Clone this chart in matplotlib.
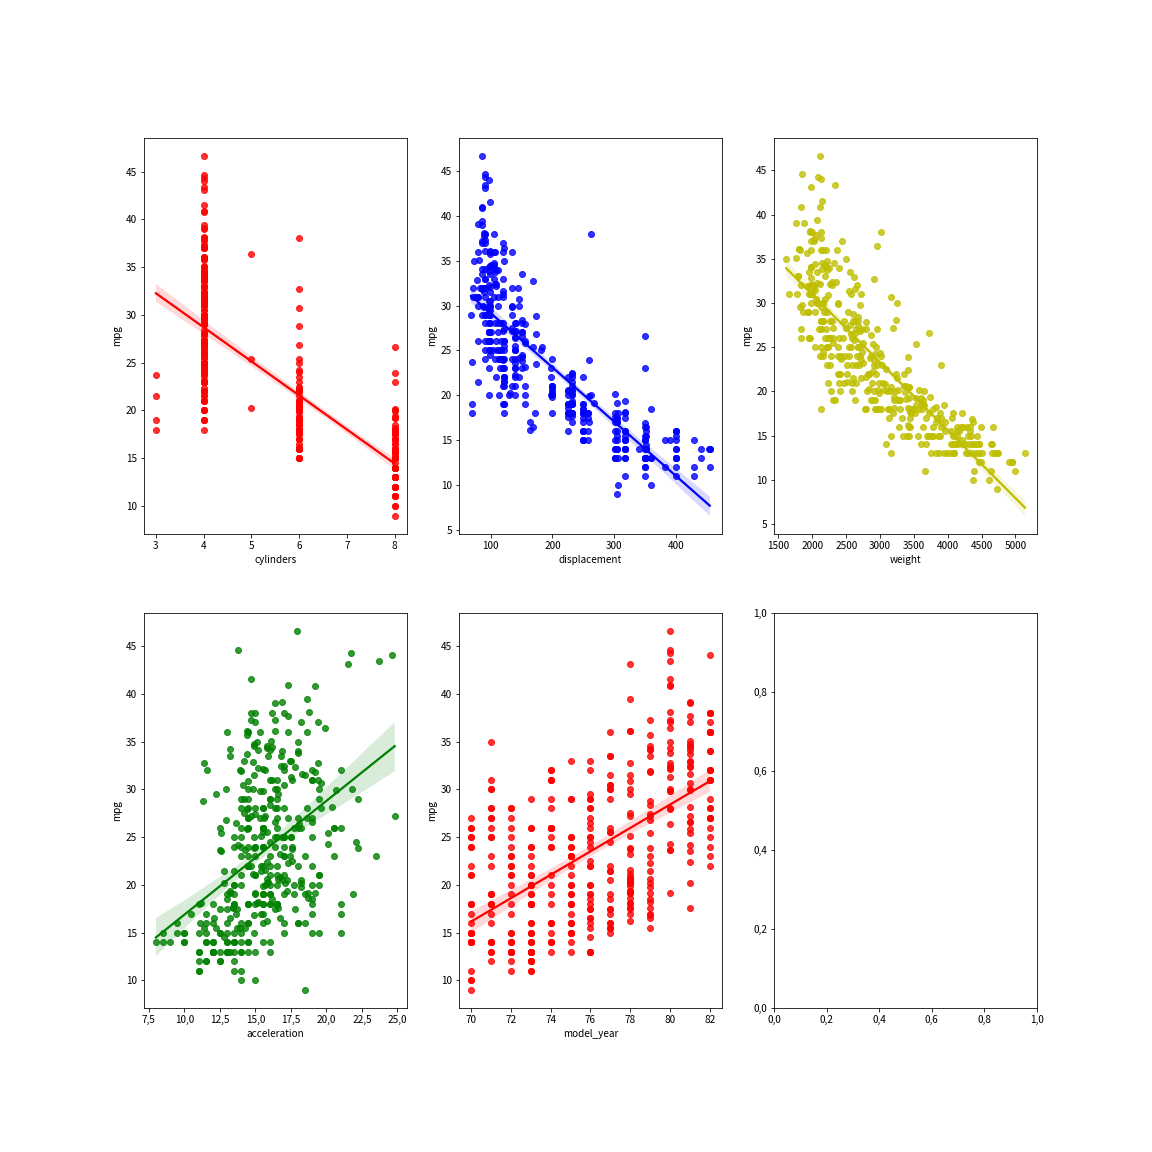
import matplotlib
matplotlib.use("Agg")
import matplotlib.pyplot as plt
import numpy as np
import pandas as pd
import seaborn as sns
from matplotlib.ticker import FuncFormatter

# auto-mpg data (grouped by model year, 1970 -> 1982)
mpg = [
    18, 15, 18, 16, 17, 15, 14, 14, 14, 15, 15, 14, 15, 14, 24, 22, 18, 21, 27, 26, 25, 24, 25, 26, 21, 10, 10, 11, 9,
    27, 28, 25, 25, 19, 16, 17, 19, 18, 14, 14, 14, 14, 12, 13, 13, 18, 22, 19, 18, 23, 28, 30, 30, 31, 35, 27, 26,
    24, 25, 23, 20, 21, 13, 14, 15, 14, 17, 11, 13, 12, 13, 19, 15, 13, 13, 14, 18, 22, 21, 26, 22, 28, 23, 28, 27,
    13, 14, 13, 14, 15, 12, 13, 13, 14, 13, 12, 13, 18, 16, 18, 18, 23, 26, 11, 12, 13, 12, 18, 20, 21, 22, 18, 19, 21, 26, 15, 16, 29, 24, 20, 19, 15, 24, 20, 11,
    20, 21, 19, 15, 31, 26, 32, 25, 16, 16, 18, 16, 13, 14, 14, 14, 29, 26, 26, 31, 32, 28, 24, 26, 24, 26, 31,
    19, 18, 15, 15, 16, 15, 16, 14, 17, 16, 15, 18, 21, 20, 13, 29, 23, 20, 23, 24, 25, 24, 18, 29, 19, 23, 23, 22, 25, 33,
    28, 25, 25, 26, 27, 17.5, 16, 15.5, 14.5, 22, 22, 24, 22.5, 29, 24.5, 29, 33, 20, 18, 18.5, 17.5, 29.5, 32, 28, 26.5, 20, 13, 19, 19, 16.5, 16.5, 13, 13, 13,
    31.5, 30, 36, 25.5, 33.5, 17.5, 17, 15.5, 15, 17.5, 20.5, 19, 18.5, 16, 15.5, 15.5, 16, 29, 24.5, 26, 25.5, 30.5, 33.5, 30, 30.5, 22, 21.5, 21.5,
    43.1, 36.1, 32.8, 39.4, 36.1, 19.9, 19.4, 20.2, 19.2, 20.5, 20.2, 25.1, 20.5, 19.4, 20.6, 20.8, 18.6, 18.1, 19.2, 17.7, 18.1, 17.5, 30, 27.5, 27.2, 30.9, 21.1, 23.2, 23.8, 23.9, 20.3, 17, 21.6, 16.2, 31.5, 29.5,
    21.5, 19.8, 22.3, 20.2, 20.6, 17, 17.6, 16.5, 18.2, 16.9, 15.5, 19.2, 18.5, 31.9, 34.1, 35.7, 27.4, 25.4, 23, 27.2, 23.9, 34.2, 34.5, 31.8, 37.3, 28.4, 28.8, 26.8, 33.5,
    41.5, 38.1, 32.1, 37.2, 28, 26.4, 24.3, 19.1, 34.3, 29.8, 31.3, 37, 32.2, 46.6, 27.9, 40.8, 44.3, 43.4, 36.4, 30, 44.6, 40.9, 33.8, 29.8, 32.7, 23.7, 35, 23.6, 32.4,
    27.2, 26.6, 25.8, 23.5, 30, 39.1, 39, 35.1, 32.3, 37, 37.7, 34.1, 34.7, 34.4, 29.9, 33, 34.5, 33.7, 32.4, 32.9, 31.6, 28.1, 30.7, 25.4, 24.2, 22.4, 26.6, 20.2, 17.6,
    28, 27, 34, 31, 29, 27, 24, 23, 36, 37, 31, 38, 36, 36, 36, 34, 38, 32, 38, 25, 38, 26, 22, 32, 36, 27, 27, 44, 32, 28, 31,
]

cylinders = [
    8, 8, 8, 8, 8, 8, 8, 8, 8, 8, 8, 8, 8, 8, 4, 6, 6, 6, 4, 4, 4, 4, 4, 4, 6, 8, 8, 8, 8,
    4, 4, 4, 4, 6, 6, 6, 6, 6, 8, 8, 8, 8, 8, 8, 8, 6, 4, 6, 6, 4, 4, 4, 4, 4, 4, 4, 4,
    4, 4, 4, 4, 4, 8, 8, 8, 8, 8, 8, 8, 8, 8, 3, 8, 8, 8, 8, 4, 4, 4, 4, 4, 4, 4, 4, 4,
    8, 8, 8, 8, 8, 8, 8, 8, 8, 8, 8, 8, 6, 6, 6, 6, 6, 4, 8, 8, 8, 8, 6, 4, 4, 4, 3, 4, 6, 4, 8, 8, 4, 4, 4, 4, 8, 4, 6, 8,
    6, 6, 6, 6, 4, 4, 4, 4, 6, 6, 6, 8, 8, 8, 8, 8, 4, 4, 4, 4, 4, 4, 4, 4, 4, 4, 4,
    6, 6, 6, 6, 8, 8, 8, 8, 6, 6, 6, 6, 6, 8, 8, 4, 4, 6, 4, 4, 4, 4, 6, 4, 6, 4, 4, 4, 4, 4,
    4, 4, 4, 4, 4, 8, 8, 8, 8, 6, 6, 6, 6, 4, 4, 4, 4, 6, 6, 6, 6, 4, 4, 4, 4, 4, 8, 4, 6, 6, 8, 8, 8, 8,
    4, 4, 4, 4, 4, 8, 8, 8, 8, 6, 6, 6, 6, 8, 8, 8, 8, 4, 4, 4, 4, 4, 4, 4, 4, 6, 4, 3,
    4, 4, 4, 4, 4, 8, 8, 8, 6, 6, 6, 4, 6, 6, 6, 6, 6, 6, 8, 6, 8, 8, 4, 4, 4, 4, 4, 4, 4, 4, 5, 6, 4, 6, 4, 4,
    6, 6, 4, 6, 6, 8, 8, 8, 8, 8, 8, 8, 8, 4, 4, 4, 4, 5, 8, 4, 8, 4, 4, 4, 4, 4, 6, 6, 4,
    4, 4, 4, 4, 4, 4, 4, 6, 4, 4, 4, 4, 4, 4, 4, 4, 4, 4, 5, 4, 4, 4, 4, 4, 6, 3, 4, 4, 4,
    4, 4, 4, 6, 4, 4, 4, 4, 4, 4, 4, 4, 4, 4, 4, 4, 4, 4, 4, 4, 4, 4, 6, 6, 6, 6, 8, 6, 6,
    4, 4, 4, 4, 4, 4, 4, 4, 4, 4, 4, 4, 4, 4, 4, 4, 4, 4, 4, 6, 6, 4, 6, 4, 4, 4, 4, 4, 4, 4, 4,
]

displacement = [
    307, 350, 318, 304, 302, 429, 454, 440, 455, 390, 383, 340, 400, 455, 113, 198, 199, 200, 97, 97, 110, 107, 104, 121, 199, 360, 307, 318, 304,
    97, 140, 113, 98, 232, 225, 250, 250, 232, 350, 400, 351, 318, 383, 400, 400, 258, 140, 250, 250, 122, 116, 79, 88, 71, 72, 97, 91,
    113, 97.5, 97, 140, 122, 350, 400, 318, 351, 304, 429, 350, 350, 400, 70, 304, 307, 302, 318, 121, 121, 120, 96, 122, 97, 120, 98, 97,
    350, 304, 350, 302, 318, 429, 400, 351, 318, 440, 455, 360, 225, 250, 232, 250, 198, 97, 400, 400, 360, 350, 232, 97, 140, 108, 70, 122, 155, 98, 350, 400, 68, 116, 114, 121, 318, 121, 156, 350,
    198, 200, 232, 250, 79, 122, 71, 140, 250, 258, 225, 302, 350, 318, 302, 304, 98, 79, 97, 76, 83, 90, 90, 116, 120, 108, 79,
    225, 250, 250, 250, 400, 350, 318, 351, 231, 250, 258, 225, 231, 262, 302, 97, 140, 232, 140, 134, 90, 119, 171, 90, 232, 115, 120, 121, 121, 91,
    107, 116, 140, 98, 101, 305, 318, 304, 351, 225, 250, 200, 232, 85, 98, 90, 91, 225, 250, 250, 258, 97, 85, 97, 140, 130, 318, 120, 156, 168, 350, 350, 302, 318,
    98, 111, 79, 122, 85, 305, 260, 318, 302, 250, 231, 225, 250, 400, 350, 400, 351, 97, 151, 97, 140, 98, 98, 97, 97, 146, 121, 80,
    90, 98, 78, 85, 91, 260, 318, 302, 231, 200, 200, 140, 225, 232, 231, 200, 225, 258, 305, 231, 302, 318, 98, 134, 119, 105, 134, 156, 151, 119, 131, 163, 121, 163, 89, 98,
    231, 200, 140, 232, 225, 305, 302, 351, 318, 350, 351, 267, 360, 89, 86, 98, 121, 183, 350, 141, 260, 105, 105, 85, 91, 151, 173, 173, 151,
    98, 89, 98, 86, 151, 140, 151, 225, 97, 134, 120, 119, 108, 86, 156, 85, 90, 90, 121, 146, 91, 85, 97, 89, 168, 70, 122, 140, 107,
    135, 151, 156, 173, 135, 79, 86, 81, 97, 85, 89, 91, 105, 98, 98, 105, 100, 107, 108, 119, 120, 141, 145, 168, 146, 231, 350, 200, 225,
    112, 112, 112, 112, 135, 151, 140, 151, 105, 91, 91, 105, 98, 120, 107, 108, 91, 91, 91, 181, 262, 156, 232, 144, 135, 151, 140, 97, 135, 120, 119,
]

weight = [
    3504, 3693, 3436, 3433, 3449, 4341, 4354, 4312, 4425, 3850, 3563, 3609, 3761, 3086, 2372, 2833, 2774, 2587, 2130, 1835, 2672, 2430, 2375, 2234, 2648, 4615, 4376, 4382, 4732,
    2130, 2264, 2228, 2046, 2634, 3439, 3329, 3302, 3288, 4209, 4464, 4154, 4096, 4955, 4746, 5140, 2962, 2408, 3282, 3139, 2220, 2123, 2074, 2065, 1773, 1613, 1834, 1955,
    2278, 2126, 2254, 2408, 2226, 4274, 4385, 4135, 4129, 3672, 4633, 4502, 4456, 4422, 2330, 3892, 4098, 4294, 4077, 2933, 2511, 2979, 2189, 2395, 2288, 2506, 2164, 2100,
    4100, 3672, 3988, 4042, 3777, 4952, 4464, 4363, 4237, 4735, 4951, 3821, 3121, 3278, 2945, 3021, 2904, 1950, 4997, 4906, 4654, 4499, 2789, 2279, 2401, 2379, 2124, 2310, 2472, 2265, 4082, 4278, 1867, 2158, 2582, 2868, 3399, 2660, 2807, 3664,
    3102, 2875, 2901, 3336, 1950, 2451, 1836, 2542, 3781, 3632, 3613, 4141, 4699, 4457, 4638, 4257, 2219, 1963, 2300, 1649, 2003, 2125, 2108, 2246, 2489, 2391, 2000,
    3264, 3459, 3432, 3158, 4668, 4440, 4498, 4657, 3907, 3897, 3730, 3785, 3039, 3221, 3169, 2171, 2639, 2914, 2592, 2702, 2223, 2545, 2984, 1937, 3211, 2694, 2957, 2945, 2671, 1795,
    2464, 2220, 2572, 2255, 2202, 4215, 4190, 3962, 4215, 3233, 3353, 3012, 3085, 2035, 2164, 1937, 1795, 3651, 3574, 3645, 3193, 1825, 1990, 2155, 2565, 3150, 3940, 3270, 2930, 3820, 4380, 4055, 3870, 3755,
    2045, 2155, 1825, 2300, 1945, 3880, 4060, 4140, 4295, 3520, 3425, 3630, 3525, 4220, 4165, 4325, 4335, 1940, 2740, 2265, 2755, 2051, 2075, 1985, 2190, 2815, 2600, 2720,
    1985, 1800, 1985, 2070, 1800, 3365, 3735, 3570, 3535, 3155, 2965, 2720, 3430, 3210, 3380, 3070, 3620, 3410, 3425, 3445, 3205, 4080, 2155, 2560, 2300, 2230, 2515, 2745, 2855, 2405, 2830, 3140, 2795, 3410, 1990, 2135,
    3245, 2990, 2890, 3265, 3360, 3840, 3725, 3955, 3830, 4360, 4054, 3605, 3940, 1925, 1975, 1915, 2670, 3530, 3900, 3190, 3420, 2200, 2150, 2020, 2130, 2670, 2595, 2700, 2556,
    2144, 1968, 2120, 2019, 2678, 2870, 3003, 3381, 2188, 2711, 2542, 2434, 2265, 2110, 2800, 2110, 2085, 2335, 2950, 3250, 1850, 1835, 2145, 1845, 2910, 2420, 2500, 2905, 2290,
    2490, 2635, 2620, 2725, 2385, 1755, 1875, 1760, 2065, 1975, 2050, 1985, 2215, 2045, 2380, 2190, 2320, 2210, 2350, 2615, 2635, 3230, 3160, 2900, 2930, 3415, 3725, 3060, 3465,
    2605, 2640, 2395, 2575, 2525, 2735, 2865, 3035, 1980, 2025, 1970, 2125, 2125, 2160, 2205, 2245, 1965, 1965, 1995, 2945, 3015, 2585, 2835, 2665, 2370, 2950, 2790, 2130, 2295, 2625, 2720,
]

acceleration = [
    12, 11.5, 11, 12, 10.5, 10, 9, 8.5, 10, 8.5, 10, 8, 9.5, 10, 15, 15.5, 15.5, 16, 14.5, 20.5, 17.5, 14.5, 17.5, 12.5, 15, 14, 15, 13.5, 18.5,
    14.5, 15.5, 14, 19, 13, 15.5, 15.5, 15.5, 15.5, 12, 11.5, 13.5, 13, 11.5, 12, 12, 13.5, 19, 15, 14.5, 14, 14, 19.5, 14.5, 19, 18, 19, 20.5,
    15.5, 17, 23.5, 19.5, 16.5, 12, 12, 13.5, 13, 11.5, 11, 13.5, 13.5, 12.5, 13.5, 12.5, 14, 16, 14, 14.5, 18, 19.5, 18, 16, 17, 14.5, 15, 16.5,
    13, 11.5, 13, 14.5, 12.5, 11.5, 12, 13, 14.5, 11, 11, 11, 16.5, 18, 16, 16.5, 16, 21, 14, 12.5, 13, 12.5, 15, 19, 19.5, 16.5, 13.5, 18.5, 14, 15.5, 13, 9.5, 19.5, 15.5, 14, 15.5, 11, 14, 13.5, 11,
    16.5, 17, 16, 17, 19, 16.5, 21, 17, 17, 18, 16.5, 14, 14.5, 13.5, 16, 15.5, 16.5, 15.5, 14.5, 16.5, 19, 14.5, 15.5, 14, 15, 15.5, 16,
    16, 16, 21, 19.5, 11.5, 14, 14.5, 13.5, 21, 18.5, 19, 19, 15, 13.5, 12, 16, 17, 16, 18.5, 13.5, 16.5, 17, 14.5, 14, 17, 15, 17, 14.5, 13.5, 17.5,
    15.5, 16.9, 14.9, 17.7, 15.3, 13, 13, 13.9, 12.8, 15.4, 14.5, 17.6, 17.6, 22.2, 22.1, 14.2, 17.4, 17.7, 21, 16.2, 17.8, 12.2, 17, 16.4, 13.6, 15.7, 13.2, 21.9, 15.5, 16.7, 12.1, 12, 15, 14,
    18.5, 14.8, 18.6, 15.5, 16.8, 12.5, 19, 13.7, 14.9, 16.4, 16.9, 17.7, 19, 11.1, 11.4, 12.2, 14.5, 14.5, 16, 18.2, 15.8, 17, 15.9, 16.4, 14.1, 14.5, 12.8, 13.5,
    21.5, 14.4, 19.4, 18.6, 16.4, 15.5, 13.2, 12.8, 19.2, 18.2, 15.8, 15.4, 17.2, 17.2, 15.8, 16.7, 18.7, 15.1, 13.2, 13.4, 11.2, 13.7, 16.5, 14.2, 14.7, 14.5, 14.8, 16.7, 17.6, 14.9, 15.9, 13.6, 15.7, 15.8, 14.9, 16.6,
    15.4, 18.2, 17.3, 18.2, 16.6, 15.4, 13.4, 13.2, 15.2, 14.9, 14.3, 15, 13, 14, 15.2, 14.4, 15, 20.1, 17.4, 24.8, 22.2, 13.2, 14.9, 19.2, 14.7, 16, 11.3, 12.9, 13.2,
    14.7, 18.8, 15.5, 16.4, 16.5, 18.1, 20.1, 18.7, 15.8, 15.5, 17.5, 15, 15.2, 17.9, 14.4, 19.2, 21.7, 23.7, 19.9, 21.8, 13.8, 17.3, 18, 15.3, 11.4, 12.5, 15.1, 14.3, 17,
    15.7, 16.4, 14.4, 12.6, 12.9, 16.9, 16.4, 16.1, 17.8, 19.4, 17.3, 16, 14.9, 16.2, 20.7, 14.2, 15.8, 14.4, 16.8, 14.8, 18.3, 20.4, 19.6, 12.6, 13.8, 15.8, 19, 17.1, 16.6,
    19.6, 18.6, 18, 16.2, 16, 18, 16.4, 20.5, 15.3, 18.2, 17.6, 14.7, 17.3, 14.5, 14.5, 16.9, 15, 15.7, 16.2, 16.4, 17, 14.5, 14.7, 13.9, 13, 17.3, 15.6, 24.6, 11.6, 18.6, 19.4,
]

year_counts = [29, 28, 28, 40, 27, 30, 34, 28, 36, 29, 29, 29, 31]
year_values = [70, 71, 72, 73, 74, 75, 76, 77, 78, 79, 80, 81, 82]
model_year = [y for y, n in zip(year_values, year_counts) for _ in range(n)]

features = ["cylinders", "displacement", "weight", "acceleration", "model_year"]
colors = ["r", "b", "y", "g", "r"]

df = pd.DataFrame({
    "mpg": mpg,
    "cylinders": cylinders,
    "displacement": displacement,
    "weight": weight,
    "acceleration": acceleration,
    "model_year": model_year,
})

plt.rcParams["font.family"] = ["Noto Sans CJK KR", "DejaVu Sans"]
plt.rcParams["font.size"] = 10

fig, axes = plt.subplots(2, 3, figsize=(16, 16), dpi=72)
fig.subplots_adjust(left=0.125, right=0.9, top=0.88, bottom=0.125, wspace=0.2, hspace=0.2)

for ax, feat, col in zip(axes.flat, features, colors):
    sns.regplot(data=df, x=feat, y="mpg", color=col, ax=ax, seed=0)

comma = FuncFormatter(lambda v, p: f"{v:.1f}".replace(".", ","))
axes[1, 0].xaxis.set_major_formatter(comma)
axes[1, 2].xaxis.set_major_formatter(comma)
axes[1, 2].yaxis.set_major_formatter(comma)

fig.savefig("out.png", dpi=72)
